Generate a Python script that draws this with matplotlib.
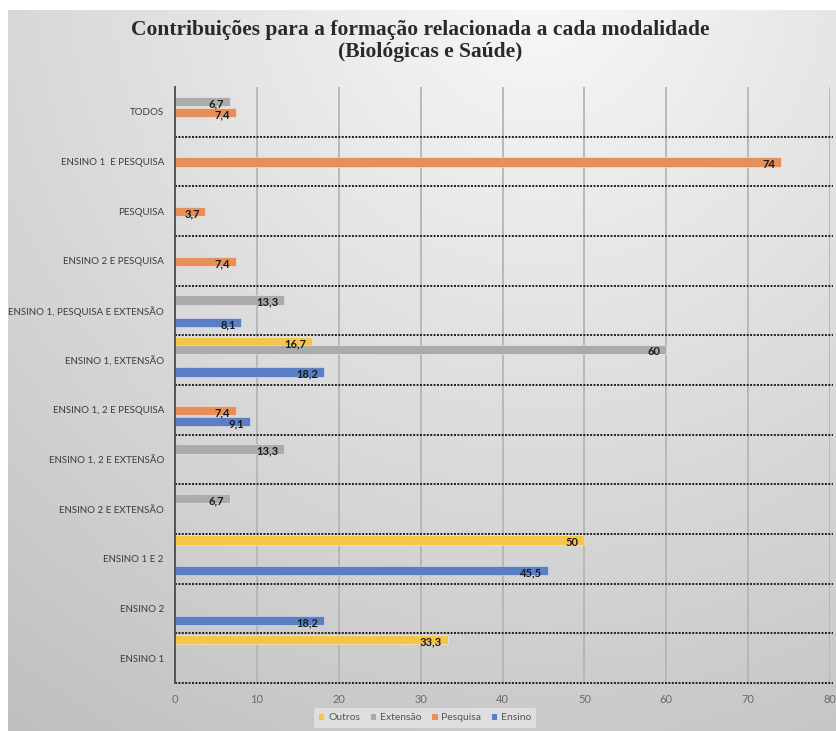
import matplotlib
matplotlib.use('Agg')
import matplotlib.pyplot as plt
from matplotlib.patches import Patch
import numpy as np

categories = ["ENSINO 1", "ENSINO 2", "ENSINO 1 E 2", "ENSINO 2 E EXTENSÃO",
              "ENSINO 1, 2 E EXTENSÃO", "ENSINO 1, 2 E PESQUISA", "ENSINO 1, EXTENSÃO",
              "ENSINO 1, PESQUISA E EXTENSÃO", "ENSINO 2 E PESQUISA", "PESQUISA",
              "ENSINO 1  E PESQUISA", "TODOS"]
nan = np.nan
outros = [33.3, nan, 50, nan, nan, nan, 16.7, nan, nan, nan, nan, nan]
extensao = [nan, nan, nan, 6.7, 13.3, nan, 60, 13.3, nan, nan, nan, 6.7]
pesquisa = [nan, nan, nan, nan, nan, 7.4, nan, nan, 7.4, 3.7, 74, 7.4]
ensino = [nan, 18.2, 45.5, nan, nan, 9.1, 18.2, 8.1, nan, nan, nan, nan]
series_names = ["Outros", "Extensão", "Pesquisa", "Ensino"]
xticks = [0, 10, 20, 30, 40, 50, 60, 70, 80]

colors = ["#F4C548", "#ABABAB", "#E5905A", "#5B7FC5"]
offsets = [0.38, 0.21, -0.01, -0.24]
bar_h = 0.19

W, H = 836, 731
fig = plt.figure(figsize=(W / 100, H / 100), dpi=100)
fig.patch.set_facecolor('white')

# background gradient panel
bg = fig.add_axes([8 / W, 0, 1 - 8 / W, 1 - 10 / H], zorder=-10)
xs = np.linspace(8, W, 300)
ys = np.linspace(10, H, 300)
X, Y = np.meshgrid(xs, ys)
d = np.sqrt((X - 540) ** 2 + (Y + 20) ** 2)
val = np.clip(0.975 - d * 0.000245, 0, 1)
img = np.dstack([val, val, val])
bg.imshow(img, aspect='auto', extent=[0, 1, 0, 1], origin='upper')
bg.set_axis_off()

ax = fig.add_axes([175 / W, 1 - 683 / H, (830 - 175) / W, (683 - 87) / H])
ax.patch.set_alpha(0)

y = np.arange(len(categories))
label_family = ['Lato', 'DejaVu Sans']
for vals, col, off in zip([outros, extensao, pesquisa, ensino], colors, offsets):
    v = np.array(vals, dtype=float)
    ax.barh(y + off, v, height=bar_h, color=col, edgecolor=(1, 1, 1, 0.45),
            linewidth=0.6, zorder=3)
    for yi, vi in zip(y, v):
        if np.isnan(vi):
            continue
        txt = str(int(vi)) if vi == int(vi) else f"{vi:.1f}".replace('.', ',')
        ax.annotate(txt, xy=(vi, yi + off), xytext=(-4, -1.5),
                    textcoords='offset points', ha='right', va='center',
                    fontsize=8, fontweight='bold', color='#1a1a1a',
                    family=label_family, zorder=5)

ax.set_xlim(0, 80)
ax.set_ylim(-0.5, len(categories) - 0.5)
ax.set_xticks(xticks)
ax.set_xticklabels([str(t) for t in xticks], fontsize=8, color='#6a6a6a',
                   family=label_family)
ax.set_yticks(y)
ax.set_yticklabels(categories, fontsize=7.0, color='#3a3a3a', family=label_family)
ax.tick_params(axis='both', length=0)
ax.tick_params(axis='y', pad=8)
ax.tick_params(axis='x', pad=8)

for t in xticks[1:]:
    ax.axvline(t, color='#B5B5B5', lw=1.3, zorder=1)

for b in np.arange(-0.5, len(categories) - 1, 1.0):
    ax.plot([0, 80.4], [b, b], color='#1e1e1e', lw=1.4,
            linestyle=(0, (1, 0.75)), zorder=4, clip_on=False)

for s in ['top', 'right', 'bottom']:
    ax.spines[s].set_visible(False)
ax.spines['left'].set_color('#4a4a4a')
ax.spines['left'].set_linewidth(1.3)
ax.spines['left'].set_zorder(6)

fig.text(420 / W, 1 - 30 / H,
         "Contribuições para a formação relacionada a cada modalidade",
         ha='center', va='center', fontsize=15.5, fontweight='bold',
         family=['Liberation Serif', 'DejaVu Serif'], color='#2a2a2a')
fig.text(430 / W, 1 - 52 / H, "(Biológicas e Saúde)",
         ha='center', va='center', fontsize=15.5, fontweight='bold',
         family=['Liberation Serif', 'DejaVu Serif'], color='#2a2a2a')

handles = [Patch(facecolor=c, edgecolor='none') for c in colors]
leg = fig.legend(handles, series_names, ncol=4, loc='center',
                 bbox_to_anchor=(425 / W, 1 - 718 / H),
                 frameon=True, handlelength=0.55, handleheight=0.55,
                 handletextpad=0.35, columnspacing=1.0, borderpad=0.5,
                 prop={'family': label_family, 'size': 7.5})
leg.get_frame().set_facecolor('#E4E4E4')
leg.get_frame().set_edgecolor('none')
leg.get_frame().set_alpha(0.8)
for t in leg.get_texts():
    t.set_color('#555555')

fig.savefig('out.png', dpi=100)
